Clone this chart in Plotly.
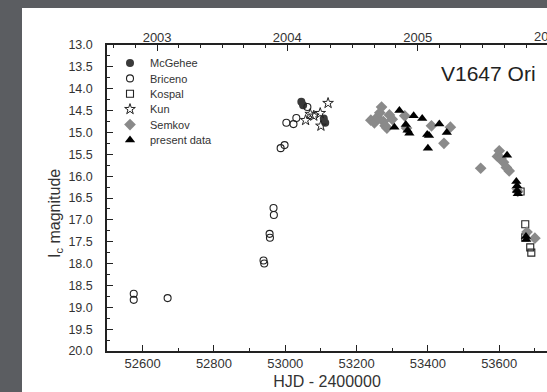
import plotly.graph_objects as go

# ---------------- data (HJD - 2400000, Ic magnitude) ----------------
mcgehee_x = [53045, 53050, 53108, 53112]
mcgehee_y = [14.30, 14.38, 14.68, 14.78]

briceno_x = [52575, 52575, 52670, 52939, 52941, 52956, 52957, 52967, 52968,
             52987, 52998, 53003, 53023, 53031, 53062]
briceno_y = [18.69, 18.83, 18.79, 17.93, 18.00, 17.32, 17.41, 16.73, 16.89,
             15.36, 15.29, 14.78, 14.81, 14.67, 14.42]

kospal_x = [53660, 53673, 53673, 53687, 53690]
kospal_y = [16.35, 17.10, 17.40, 17.63, 17.75]

kun_x = [53057, 53070, 53080, 53098, 53100, 53120]
kun_y = [14.72, 14.58, 14.62, 14.56, 14.85, 14.33]

semkov_x = [53240, 53250, 53258, 53265, 53270, 53275, 53280, 53285, 53292,
            53300, 53335, 53340, 53410, 53445, 53463, 53548, 53595, 53600,
            53605, 53612, 53620, 53628, 53650, 53652, 53678, 53700]
semkov_y = [14.72, 14.78, 14.65, 14.55, 14.42, 14.75, 14.85, 14.90, 14.60,
            14.70, 14.62, 14.90, 14.85, 15.25, 14.88, 15.82, 15.55, 15.42,
            15.60, 15.68, 15.80, 15.88, 16.28, 16.35, 17.28, 17.42]

present_x = [53306, 53320, 53338, 53343, 53348, 53360, 53384, 53398, 53403,
             53400, 53432, 53453, 53622, 53648, 53650, 53650, 53652, 53675, 53676]
present_y = [14.88, 14.50, 14.82, 14.95, 15.02, 14.62, 14.68, 15.05, 15.07,
             15.36, 14.81, 15.00, 15.52, 16.12, 16.22, 16.33, 16.40, 17.38, 17.45]

year_labels = ["2003", "2004", "2005", "2006"]
year_hjd = [52640.5, 53005.5, 53371.5, 53736.5]

x_range = [52500, 53734]
y_range = [20.0, 13.0]
y_ticks = [13.0 + 0.5 * i for i in range(15)]
x_ticks = [52600, 52800, 53000, 53200, 53400, 53600]

FONT = "Liberation Sans, Arial, Helvetica, sans-serif"

W, H = 547, 392
ml, mr, mt, mb = 107, 0, 45, 41
pw, ph = W - ml - mr, H - mt - mb

def px_x(p):
    return (p - ml) / pw

def px_y(p):
    return (H - mb - p) / ph

fig = go.Figure()

legend_rows = []

def add(name, xs, ys, symbol, color, size, lw=1.0):
    idx = len(legend_rows)
    lname = "legend" if idx == 0 else "legend%d" % (idx + 1)
    legend_rows.append(lname)
    fig.add_trace(go.Scatter(
        x=xs, y=ys, mode="markers", name=name, legend=lname,
        marker=dict(symbol=symbol, color=color, size=size,
                    line=dict(width=lw, color=color)),
    ))

add("McGehee", mcgehee_x, mcgehee_y, "circle", "#3a3a3a", 8, 0)
add("Briceno", briceno_x, briceno_y, "circle-open", "#222222", 7, 1.1)
add("Kospal", kospal_x, kospal_y, "square-open", "#222222", 7, 1.1)
add("Kun", kun_x, kun_y, "star-open", "#222222", 8, 1.0)
add("Semkov", semkov_x, semkov_y, "diamond", "#8a8a8a", 9, 0)
add("present data", present_x, present_y, "triangle-up", "#000000", 9, 0)

# invisible trace to activate top axis
fig.add_trace(go.Scatter(x=x_range, y=[13, 13], xaxis="x2", mode="markers",
                         marker=dict(opacity=0), showlegend=False, hoverinfo="skip"))

legends = {}
for i, lname in enumerate(legend_rows):
    legends[lname] = dict(x=px_x(110), y=px_y(63 + 15.4 * i), xanchor="left",
                          yanchor="middle", bgcolor="rgba(0,0,0,0)",
                          font=dict(size=11, color="#333333"), itemwidth=30)

fig.update_layout(
    width=W, height=H,
    margin=dict(l=ml, r=mr, t=mt, b=mb, pad=0),
    paper_bgcolor="#5b5d61",
    plot_bgcolor="#ffffff",
    font=dict(family=FONT, color="#222222", size=12),
    showlegend=True,
    xaxis=dict(range=x_range, tickvals=x_ticks, tickformat="d", ticks="inside",
               ticklen=6, tickwidth=1.2, tickcolor="#222", showline=True,
               linecolor="#222", linewidth=1.5, showgrid=False, zeroline=False,
               tickfont=dict(size=13, color="#333"),
               minor=dict(dtick=100, tick0=52500, ticks="inside", ticklen=3,
                          tickcolor="#222", tickwidth=1),
               title=dict(text="HJD - 2400000", font=dict(size=16, color="#333"),
                          standoff=5)),
    xaxis2=dict(range=x_range, overlaying="x", side="top", tickvals=year_hjd,
                ticktext=year_labels, ticks="inside", ticklen=6, tickwidth=1.2,
                tickcolor="#222", showline=True, linecolor="#222", linewidth=1.5,
                showgrid=False, zeroline=False, tickfont=dict(size=13, color="#333"),
                ticklabelstandoff=-4,
                minor=dict(dtick=365.25 / 6, tick0=52640.5, ticks="inside",
                           ticklen=3, tickcolor="#222", tickwidth=1)),
    yaxis=dict(range=y_range, tickvals=y_ticks, tickformat=".1f", ticks="inside",
               ticklen=6, tickwidth=1.2, tickcolor="#222", showline=True,
               linecolor="#222", linewidth=1.5, showgrid=False, zeroline=False,
               tickfont=dict(size=12.5, color="#333"), ticklabelstandoff=10,
               minor=dict(dtick=0.25, tick0=13, ticks="inside", ticklen=3,
                          tickcolor="#222", tickwidth=1)),
    shapes=[dict(type="rect", xref="paper", yref="paper", layer="below",
                 x0=px_x(22), x1=px_x(W + 5), y0=px_y(H + 5), y1=px_y(8),
                 fillcolor="#ffffff", line=dict(width=0))],
    annotations=[
        dict(text="V1647 Ori", xref="paper", yref="paper", x=px_x(538), y=px_y(73),
             xanchor="right", yanchor="middle", showarrow=False,
             font=dict(size=21, color="#222")),
        dict(text="I<sub>c</sub> magnitude", xref="paper", yref="paper",
             x=px_x(55), y=px_y(214), textangle=-90, xanchor="center",
             yanchor="middle", showarrow=False, font=dict(size=16, color="#333")),
        dict(text="2006", xref="paper", yref="paper", x=px_x(548), y=px_y(36.5),
             xanchor="center", yanchor="middle", showarrow=False,
             font=dict(size=13, color="#333")),
    ],
    **legends,
)

fig.write_html(
    "out.html",
    config={"displayModeBar": False},
    post_script="document.body.style.margin='0';document.body.style.overflow='hidden';",
)
